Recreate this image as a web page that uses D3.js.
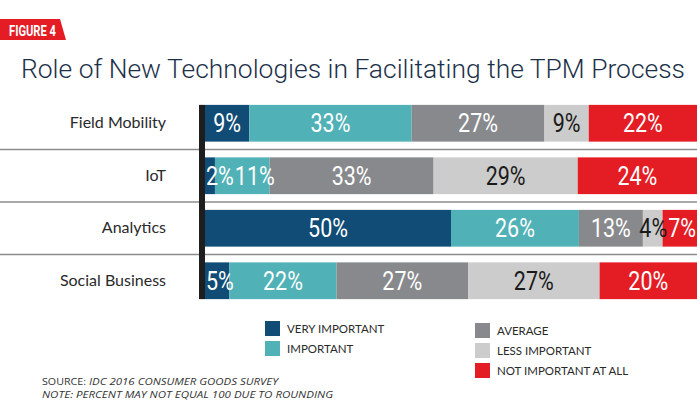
<!DOCTYPE html>
<html>
<head>
<meta charset="utf-8">
<script src="https://cdn.jsdelivr.net/npm/d3@7/dist/d3.min.js"></script>
<style>
  html, body { margin: 0; padding: 0; background: #ffffff; }
  svg { display: block; }
</style>
</head>
<body>
<script>
// ---- data ----
const categories = ["Field Mobility", "IoT", "Analytics", "Social Business"];
const seriesNames = ["VERY IMPORTANT", "IMPORTANT", "AVERAGE", "LESS IMPORTANT", "NOT IMPORTANT AT ALL"];
const veryImportant = [9, 2, 50, 5];
const important = [33, 11, 26, 22];
const average = [27, 33, 13, 27];
const lessImportant = [9, 29, 4, 27];
const notImportant = [22, 24, 7, 20];
const seriesColors = ["#104c76", "#50b1b6", "#88898d", "#cbcccb", "#e41c24"];
const labelColors = ["#ffffff", "#ffffff", "#ffffff", "#1a1a1a", "#ffffff"];

const W = 700, H = 408;
const svg = d3.select("body").append("svg").attr("width", W).attr("height", H);

// figure badge
svg.append("path")
  .attr("d", "M0,19 L60,19 L66,40 L0,40 Z")
  .attr("fill", "#e41c24");
svg.append("text")
  .attr("x", 9).attr("y", 35.5)
  .attr("textLength", 47).attr("lengthAdjust", "spacingAndGlyphs")
  .attr("font-family", "Roboto, sans-serif").attr("font-weight", 700)
  .attr("font-size", 15).attr("fill", "#ffffff")
  .text("FIGURE 4");

// title
svg.append("text")
  .attr("x", 21).attr("y", 77.5)
  .attr("textLength", 664).attr("lengthAdjust", "spacingAndGlyphs")
  .attr("font-family", "Roboto, sans-serif").attr("font-weight", 300)
  .attr("font-size", 26).attr("fill", "#1c3149")
  .text("Role of New Technologies in Facilitating the TPM Process");

// data table
const seriesValues = [veryImportant, important, average, lessImportant, notImportant];
const rows = categories.map((c, i) => {
  const r = { category: c };
  seriesNames.forEach((s, j) => r[s] = seriesValues[j][i]);
  return r;
});

const x0 = 205, x1 = 697;
const x = d3.scaleLinear().domain([0, 1]).range([x0, x1]);
const y = d3.scaleBand().domain(categories).range([97, 307]).paddingInner(0.3).paddingOuter(0.15);

// separators
const step = y.step();
const gapHalf = (step - y.bandwidth()) / 2;
svg.append("g").selectAll("line")
  .data(categories.slice(1))
  .join("line")
  .attr("x1", 0).attr("x2", x1)
  .attr("y1", d => y(d) - gapHalf).attr("y2", d => y(d) - gapHalf)
  .attr("stroke", "#8c8c8c").attr("stroke-width", 1.6);

// stacked (normalized to 100%)
const stack = d3.stack().keys(seriesNames).offset(d3.stackOffsetExpand);
const stacked = stack(rows);

const g = svg.append("g");
stacked.forEach((layer, j) => {
  g.append("g").selectAll("rect")
    .data(layer)
    .join("rect")
    .attr("x", d => x(d[0]))
    .attr("width", d => x(d[1]) - x(d[0]))
    .attr("y", d => y(d.data.category))
    .attr("height", y.bandwidth())
    .attr("fill", seriesColors[j]);
});

// labels with simple collision avoidance per row
const SX = 0.86;
const GAP = 1;
const labelLayer = svg.append("g");
categories.forEach((cat, i) => {
  const items = stacked.map((layer, j) => {
    const d = layer[i];
    const t = labelLayer.append("text")
      .attr("text-anchor", "middle")
      .attr("font-family", "Roboto, sans-serif")
      .attr("font-size", 25)
      .attr("fill", labelColors[j])
      .text(d.data[seriesNames[j]] + "%");
    const w = t.node().getComputedTextLength() * SX;
    const center = (x(d[0]) + x(d[1])) / 2;
    return { t, w, segL: x(d[0]), left: center - w / 2 };
  });
  // forward pass
  let prevRight = -Infinity;
  items.forEach(it => {
    it.left = Math.max(it.left, prevRight + GAP, it.segL + 1);
    prevRight = it.left + it.w;
  });
  // backward pass (keep inside the bar)
  let nextLeft = x1 - 1 + GAP;
  for (let k = items.length - 1; k >= 0; k--) {
    const it = items[k];
    if (it.left + it.w > nextLeft - GAP) it.left = nextLeft - GAP - it.w;
    nextLeft = it.left;
  }
  const cy = y(cat) + y.bandwidth() / 2 + 9;
  items.forEach(it => {
    it.t.attr("transform", `translate(${it.left + it.w / 2},${cy}) scale(${SX},1)`);
  });
});

// axis line
svg.append("rect")
  .attr("x", 199).attr("width", 6)
  .attr("y", y(categories[0]))
  .attr("height", y(categories[categories.length - 1]) + y.bandwidth() - y(categories[0]))
  .attr("fill", "#1e1e1e");

// category labels
const yAxis = d3.axisLeft(y).tickSize(0).tickPadding(0);
const ay = svg.append("g").attr("transform", "translate(166,0)").call(yAxis);
ay.select(".domain").remove();
ay.selectAll("text")
  .attr("font-family", "Lato, sans-serif").attr("font-size", 16)
  .attr("fill", "#2a2a2a");

// legend
const legendPos = [
  { x: 265, y: 321 }, { x: 265, y: 341 },
  { x: 475, y: 323 }, { x: 475, y: 343 }, { x: 475, y: 363 }
];
const lg = svg.append("g").selectAll("g")
  .data(seriesNames)
  .join("g")
  .attr("transform", (d, i) => `translate(${legendPos[i].x},${legendPos[i].y})`);
lg.append("rect").attr("width", 15).attr("height", 15)
  .attr("fill", (d, i) => seriesColors[i]);
lg.append("text").attr("x", 22).attr("y", 7.5).attr("dy", "0.36em")
  .attr("font-family", "Lato, sans-serif").attr("font-size", 11.5)
  .attr("fill", "#2a2a2a")
  .text(d => d);

// notes
const noteFont = "'Open Sans', sans-serif";
svg.append("text").attr("x", 42).attr("y", 385)
  .attr("textLength", 44).attr("lengthAdjust", "spacingAndGlyphs")
  .attr("font-family", noteFont).attr("font-size", 9.5).attr("fill", "#333")
  .text("SOURCE:");
svg.append("text").attr("x", 89).attr("y", 385)
  .attr("textLength", 189).attr("lengthAdjust", "spacingAndGlyphs")
  .attr("font-family", noteFont).attr("font-size", 9.5).attr("fill", "#333")
  .attr("font-style", "italic")
  .text("IDC 2016 CONSUMER GOODS SURVEY");
svg.append("text").attr("x", 42).attr("y", 398)
  .attr("textLength", 291).attr("lengthAdjust", "spacingAndGlyphs")
  .attr("font-family", noteFont).attr("font-size", 9.5).attr("fill", "#333")
  .attr("font-style", "italic")
  .text("NOTE: PERCENT MAY NOT EQUAL 100 DUE TO ROUNDING");
</script>
</body>
</html>
